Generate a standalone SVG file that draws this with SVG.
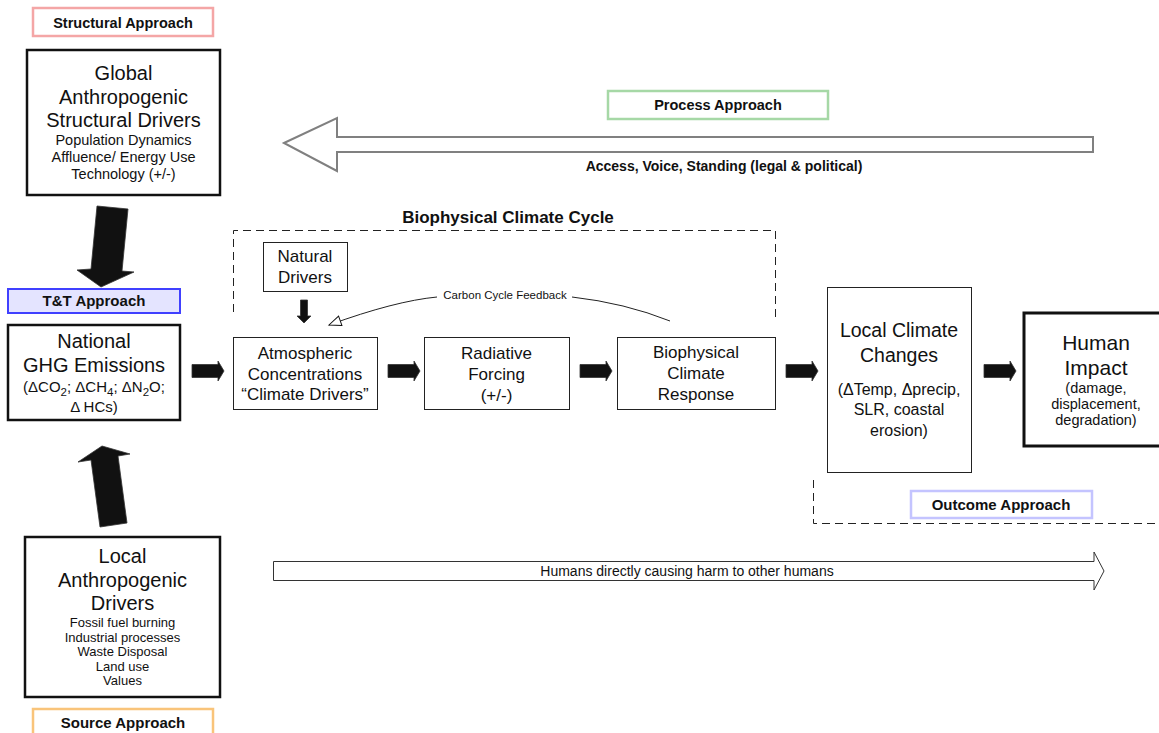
<svg xmlns="http://www.w3.org/2000/svg" xmlns:xlink="http://www.w3.org/1999/xlink" width="1159" height="733" viewBox="0 0 1159 733">
<style>
text{font-family:"Liberation Sans",Arial,sans-serif;fill:#111;text-anchor:middle}
.big{font-size:20px}
.mid{font-size:17px}
.sm{font-size:14.5px}
.xs{font-size:13px}
.lbl{font-size:15px;font-weight:bold}
.thick{fill:#fff;stroke:#111;stroke-width:2.5}
.thin{fill:#fff;stroke:#222;stroke-width:1}
.dash{fill:none;stroke:#222;stroke-width:1;stroke-dasharray:8 5}
.blk{fill:#111;stroke:#333;stroke-width:0.8}
</style>
<defs>
<path id="blkarrow" d="M0,-6.5 H26 V-10 L32,0 L26,10 V6.5 H0 Z"/>
<marker id="open" markerUnits="userSpaceOnUse" markerWidth="16" markerHeight="14" refX="13" refY="6" orient="auto" viewBox="0 0 16 14">
<path d="M1,1 L13,6 L1,11 Z" fill="#fff" stroke="#111" stroke-width="1"/>
</marker>
</defs>
<rect width="1159" height="733" fill="#fff"/>

<g id="structural-approach">
<rect x="33" y="8" width="180" height="28" fill="#fff" stroke="#f4a6a6" stroke-width="2.5"/>
<text x="123" y="28" class="lbl" style="font-size:14.5px">Structural Approach</text>
</g>

<g id="global-drivers">
<rect x="27" y="50" width="193" height="145" class="thick"/>
<text x="123.5" y="80" class="big">Global</text>
<text x="123.5" y="104" class="big">Anthropogenic</text>
<text x="123.5" y="127" class="big">Structural Drivers</text>
<text x="123.5" y="145" class="sm">Population Dynamics</text>
<text x="123.5" y="162" class="sm">Affluence/ Energy Use</text>
<text x="123.5" y="179" class="sm">Technology (+/-)</text>
</g>

<g id="tt-approach">
<rect x="8" y="289" width="172" height="24" fill="#e4e4ff" stroke="#4040ff" stroke-width="2"/>
<text x="94" y="306" class="lbl">T&amp;T Approach</text>
</g>

<g id="national-emissions">
<rect x="8" y="325" width="172" height="95" class="thick"/>
<text x="94" y="348" class="big">National</text>
<text x="94" y="372" class="big">GHG Emissions</text>
<text x="94" y="392" style="font-size:15px">(ΔCO<tspan font-size="11.5" dy="4">2</tspan><tspan dy="-4">; ΔCH</tspan><tspan font-size="11.5" dy="4">4</tspan><tspan dy="-4">; ΔN</tspan><tspan font-size="11.5" dy="4">2</tspan><tspan dy="-4">O;</tspan></text>
<text x="94" y="412" style="font-size:15px">Δ HCs)</text>
</g>

<g id="local-drivers">
<rect x="25" y="537" width="195" height="160" class="thick"/>
<text x="122.5" y="563" class="big">Local</text>
<text x="122.5" y="587" class="big">Anthropogenic</text>
<text x="122.5" y="610" class="big">Drivers</text>
<text x="122.5" y="627" class="xs">Fossil fuel burning</text>
<text x="122.5" y="642" class="xs">Industrial processes</text>
<text x="122.5" y="656" class="xs">Waste Disposal</text>
<text x="122.5" y="671" class="xs">Land use</text>
<text x="122.5" y="685" class="xs">Values</text>
</g>

<g id="source-approach">
<rect x="33" y="709" width="180" height="32" fill="#fff" stroke="#f9c47a" stroke-width="2.5"/>
<text x="123" y="728" class="lbl">Source Approach</text>
</g>

<g id="process-approach">
<rect x="608" y="91" width="220" height="28" fill="#fff" stroke="#a6d8a6" stroke-width="2.5"/>
<text x="718" y="110" class="lbl" style="font-size:14.5px">Process Approach</text>
</g>

<g id="biophysical-cycle">
<path d="M233.5,312 V230.5 H775.5 V321" class="dash"/>
<text x="508" y="223" class="lbl" style="font-size:17px">Biophysical Climate Cycle</text>
</g>

<g id="natural-drivers">
<rect x="263.5" y="242.5" width="84" height="49" class="thin"/>
<text x="305" y="262" class="mid">Natural</text>
<text x="305" y="283" class="mid">Drivers</text>
</g>

<g id="atmospheric">
<rect x="233.5" y="337.5" width="144" height="72" class="thin"/>
<text x="305" y="359" class="mid">Atmospheric</text>
<text x="305" y="380" class="mid">Concentrations</text>
<text x="305" y="400" class="mid">“Climate Drivers”</text>
</g>

<g id="radiative">
<rect x="424.5" y="337.5" width="145" height="72" class="thin"/>
<text x="496.5" y="359" class="mid">Radiative</text>
<text x="496.5" y="380" class="mid">Forcing</text>
<text x="496.5" y="401" class="mid">(+/-)</text>
</g>

<g id="biophysical-response">
<rect x="617.5" y="337.5" width="158" height="72" class="thin"/>
<text x="696" y="358" class="mid">Biophysical</text>
<text x="696" y="379" class="mid">Climate</text>
<text x="696" y="400" class="mid">Response</text>
</g>

<g id="local-climate">
<rect x="827.5" y="287.5" width="144" height="185" class="thin"/>
<text x="899" y="337" style="font-size:19.5px">Local Climate</text>
<text x="899" y="362" style="font-size:19.5px">Changes</text>
<text x="899" y="395" style="font-size:16px">(ΔTemp, Δprecip,</text>
<text x="899" y="415" style="font-size:16px">SLR, coastal</text>
<text x="899" y="436" style="font-size:16px">erosion)</text>
</g>

<g id="human-impact">
<rect x="1024" y="313" width="150" height="133" fill="#fff" stroke="#111" stroke-width="3"/>
<text x="1096" y="350" style="font-size:21px">Human</text>
<text x="1096" y="375" style="font-size:21px">Impact</text>
<text x="1096" y="393" class="sm">(damage,</text>
<text x="1096" y="409" class="sm">displacement,</text>
<text x="1096" y="425" class="sm">degradation)</text>
</g>

<g id="outcome-approach">
<path d="M813.5,480 V523.5 H1159" class="dash"/>
<rect x="911" y="491" width="181" height="27" fill="#fff" stroke="#c4c4ff" stroke-width="2.5"/>
<text x="1001" y="510" class="lbl">Outcome Approach</text>
</g>

<g id="connectors">
<polygon points="97,206 128,209 122,271 134,272 101,287 77,270 91,269" class="blk"/>
<polygon points="102,446 130,454 118,456 127,523 100,527 91,460 78,462" class="blk"/>
<path d="M300.5,300 H307.5 V316 H311 L304,323 L297,316 H300.5 Z" class="blk"/>
<use xlink:href="#blkarrow" href="#blkarrow" x="192" y="371" class="blk"/>
<use xlink:href="#blkarrow" href="#blkarrow" x="388" y="371" class="blk"/>
<use xlink:href="#blkarrow" href="#blkarrow" x="580" y="371" class="blk"/>
<use xlink:href="#blkarrow" href="#blkarrow" x="786" y="371" class="blk"/>
<use xlink:href="#blkarrow" href="#blkarrow" x="984" y="371" class="blk"/>
<path d="M670,321 Q625,303 572,297" fill="none" stroke="#222" stroke-width="1"/>
<path d="M437,297 Q395,301 329,325" fill="none" stroke="#222" stroke-width="1" marker-end="url(#open)"/>
<text x="505" y="299" style="font-size:11.5px">Carbon Cycle Feedback</text>
<polygon points="284,143 337,118 337,137 1093,137 1093,152 337,152 337,171" fill="#fff" stroke="#808080" stroke-width="2"/>
<text x="724" y="171" class="lbl" style="font-size:14px">Access, Voice, Standing (legal &amp; political)</text>
<polygon points="273.5,561.5 1094,561.5 1094,552 1104,571 1094,590 1094,580.5 273.5,580.5" fill="#fff" stroke="#333" stroke-width="1"/>
<text x="687" y="576" style="font-size:14px">Humans directly causing harm to other humans</text>
</g>
</svg>
